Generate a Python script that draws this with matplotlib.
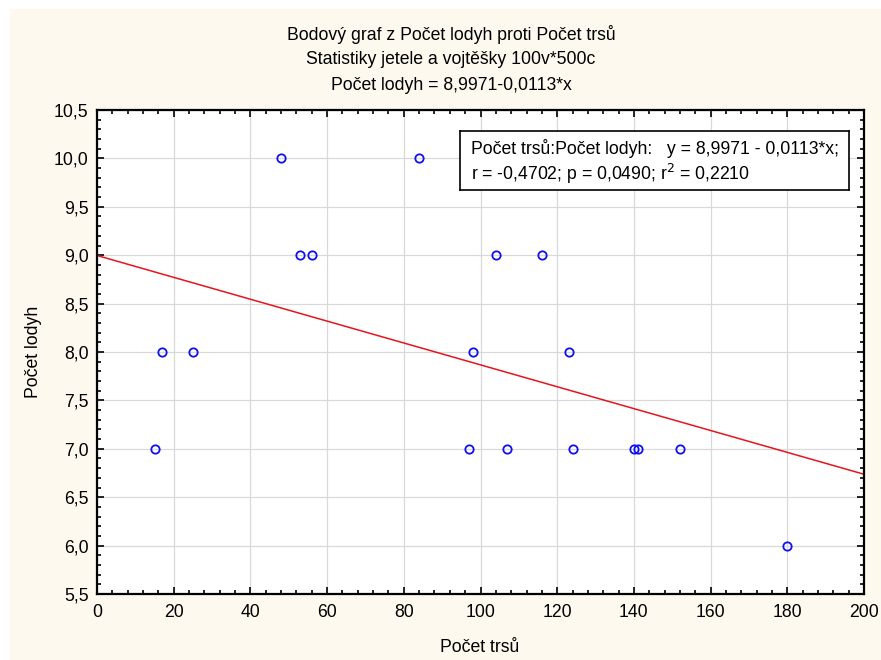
import matplotlib
matplotlib.use("Agg")
import matplotlib.pyplot as plt
from matplotlib.patches import Rectangle
from matplotlib.ticker import MultipleLocator, FuncFormatter
import numpy as np

plt.rcParams['font.family'] = ['Liberation Sans', 'DejaVu Sans']

# Data
pocet_trsu = [15, 17, 25, 48, 53, 56, 84, 97, 98, 104, 107, 116, 123, 124, 140, 141, 152, 180]
pocet_lodyh = [7, 8, 8, 10, 9, 9, 10, 7, 8, 9, 7, 9, 8, 7, 7, 7, 7, 6]
intercept = 8.9971
slope = -0.0113
title_lines = ["Bodový graf z Počet lodyh proti Počet trsů",
               "Statistiky jetele a vojtěšky 100v*500c",
               "Počet lodyh = 8,9971-0,0113*x"]
legend_lines = ["Počet trsů:Počet lodyh:   y = 8,9971 - 0,0113*x;",
                "r = -0,4702; p = 0,0490; r$^2$ = 0,2210"]

FS = 12.7
W, H = 881, 660
fig = plt.figure(figsize=(W/100, H/100), dpi=100, facecolor='white')
fig.patches.append(Rectangle((10/W, 0), 1 - 10/W, 1 - 9/H, transform=fig.transFigure,
                             facecolor='#FEF9EF', edgecolor='none', zorder=-10))

L, R, T, B = 97, 864, 110, 594
ax = fig.add_axes([L/W, 1 - B/H, (R-L)/W, (B-T)/H])
ax.set_facecolor('white')

ax.set_xlim(0, 200)
ax.set_ylim(5.5, 10.5)
ax.xaxis.set_major_locator(MultipleLocator(20))
ax.xaxis.set_minor_locator(MultipleLocator(4))
ax.yaxis.set_major_locator(MultipleLocator(0.5))
ax.yaxis.set_minor_locator(MultipleLocator(0.1))
ax.xaxis.set_major_formatter(FuncFormatter(lambda v, p: f"{v:.0f}"))
ax.yaxis.set_major_formatter(FuncFormatter(lambda v, p: f"{v:.1f}".replace('.', ',')))

ax.grid(True, which='major', color='#D9D9D9', linewidth=0.9)
ax.set_axisbelow(True)
for s in ax.spines.values():
    s.set_linewidth(1.6)
    s.set_color('black')
ax.tick_params(which='both', direction='in', top=True, right=True, width=1.2, color='black')
ax.tick_params(which='major', length=5, labelsize=FS)
ax.tick_params(which='minor', length=3)
ax.tick_params(axis='x', which='major', pad=7)
ax.tick_params(axis='y', which='major', pad=6)

xs = np.array([0, 200])
ax.plot(xs, intercept + slope * xs, color='#E8141B', linewidth=1.1, zorder=2)
ax.plot(pocet_trsu, pocet_lodyh, linestyle='none', marker='o', markersize=6,
        markerfacecolor='none', markeredgecolor='#1010F0', markeredgewidth=1.3, zorder=3)

ax.set_xlabel("Počet trsů", fontsize=FS, va='center')
ax.set_ylabel("Počet lodyh", fontsize=FS, va='center')
ax.xaxis.set_label_coords((480 - L)/(R - L), -(648 - B)/(B - T))
ax.yaxis.set_label_coords(-(L - 33)/(R - L), (B - 352)/(B - T))

for i, line in enumerate(title_lines):
    fig.text(451/W, 1 - (34 + 26*i)/H, line, ha='center', va='center', fontsize=FS)

# legend box
ax_box = fig.add_axes([460/W, 1 - 190/H, (849-460)/W, (190-131)/H])
ax_box.set_xticks([]); ax_box.set_yticks([])
ax_box.set_facecolor('white')
for s in ax_box.spines.values():
    s.set_linewidth(1.2)
ax_box.text(11/389, 0.71, legend_lines[0], ha='left', va='center', fontsize=FS, transform=ax_box.transAxes)
ax_box.text(11/389, 0.27, legend_lines[1], ha='left', va='center', fontsize=FS, transform=ax_box.transAxes)

fig.savefig("out.png", dpi=100, facecolor=fig.get_facecolor())
